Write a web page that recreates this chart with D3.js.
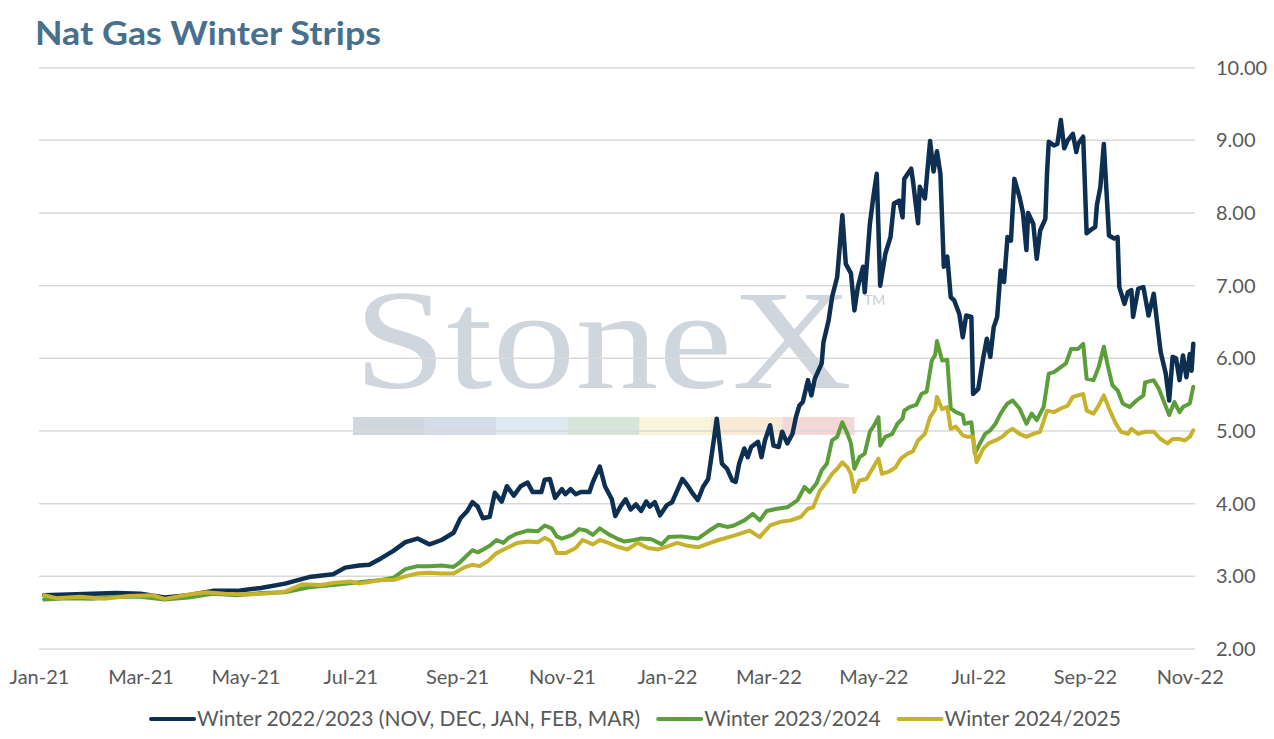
<!DOCTYPE html>
<html>
<head>
<meta charset="utf-8">
<script src="https://cdn.jsdelivr.net/npm/d3@7"></script>
<style>
  body { margin: 0; background: #fff; }
  svg { display: block; font-family: Lato, "Open Sans", sans-serif; }
</style>
</head>
<body>
<svg id="chart" width="1274" height="739"></svg>
<script>
// Winter strip prices ($/MMBtu)
var winter2223 = [
  ["2021-01-04",2.74],["2021-01-18",2.75],["2021-02-01",2.76],["2021-02-15",2.77],["2021-03-01",2.76],
  ["2021-03-15",2.71],["2021-03-29",2.74],["2021-04-12",2.80],["2021-04-26",2.80],["2021-05-10",2.84],
  ["2021-05-24",2.90],["2021-06-07",2.99],["2021-06-21",3.03],["2021-06-28",3.12],["2021-07-06",3.15],
  ["2021-07-12",3.16],["2021-07-19",3.25],["2021-07-26",3.35],["2021-08-02",3.47],["2021-08-09",3.52],
  ["2021-08-16",3.44],["2021-08-23",3.50],["2021-08-30",3.60],["2021-09-03",3.80],["2021-09-07",3.90],
  ["2021-09-10",4.02],["2021-09-13",3.96],["2021-09-16",3.80],["2021-09-20",3.82],["2021-09-23",4.15],
  ["2021-09-27",4.03],["2021-09-30",4.24],["2021-10-04",4.11],["2021-10-08",4.24],["2021-10-12",4.29],
  ["2021-10-15",4.16],["2021-10-20",4.16],["2021-10-22",4.33],["2021-10-25",4.34],["2021-10-28",4.08],
  ["2021-11-01",4.20],["2021-11-03",4.13],["2021-11-06",4.20],["2021-11-09",4.13],["2021-11-12",4.16],
  ["2021-11-17",4.16],["2021-11-19",4.30],["2021-11-23",4.51],["2021-11-26",4.24],["2021-11-30",4.06],
  ["2021-12-02",3.83],["2021-12-05",3.96],["2021-12-08",4.06],["2021-12-11",3.92],["2021-12-14",3.99],
  ["2021-12-17",3.90],["2021-12-20",4.03],["2021-12-22",3.96],["2021-12-25",4.02],["2021-12-28",3.84],
  ["2022-01-01",3.98],["2022-01-04",4.02],["2022-01-07",4.18],["2022-01-10",4.34],["2022-01-13",4.25],
  ["2022-01-16",4.14],["2022-01-19",4.05],["2022-01-22",4.23],["2022-01-25",4.34],["2022-01-28",4.83],
  ["2022-01-30",5.17],["2022-02-02",4.55],["2022-02-05",4.48],["2022-02-08",4.32],["2022-02-10",4.30],
  ["2022-02-12",4.55],["2022-02-15",4.76],["2022-02-17",4.64],["2022-02-19",4.78],["2022-02-23",4.85],
  ["2022-02-25",4.64],["2022-02-27",4.87],["2022-03-02",5.08],["2022-03-04",4.80],["2022-03-07",4.78],
  ["2022-03-09",4.99],["2022-03-12",4.83],["2022-03-15",4.96],["2022-03-17",5.19],["2022-03-19",5.35],
  ["2022-03-21",5.40],["2022-03-24",5.70],["2022-03-26",5.49],["2022-03-28",5.72],["2022-04-01",5.93],
  ["2022-04-02",6.22],["2022-04-05",6.52],["2022-04-07",6.84],["2022-04-10",7.12],["2022-04-13",7.97],
  ["2022-04-15",7.30],["2022-04-18",7.17],["2022-04-20",6.66],["2022-04-22",6.98],["2022-04-25",7.26],
  ["2022-04-26",6.91],["2022-04-29",7.85],["2022-05-01",8.22],["2022-05-03",8.54],["2022-05-05",7.00],
  ["2022-05-08",7.44],["2022-05-11",7.67],["2022-05-13",8.13],["2022-05-16",8.17],["2022-05-18",7.94],
  ["2022-05-19",8.47],["2022-05-23",8.61],["2022-05-24",8.45],["2022-05-27",7.86],["2022-05-28",8.36],
  ["2022-05-31",8.20],["2022-06-03",8.99],["2022-06-05",8.57],["2022-06-07",8.85],["2022-06-09",8.54],
  ["2022-06-11",7.26],["2022-06-13",7.40],["2022-06-15",6.84],["2022-06-17",6.80],["2022-06-20",6.61],
  ["2022-06-22",6.29],["2022-06-24",6.59],["2022-06-27",6.57],["2022-06-28",5.51],["2022-07-01",5.58],
  ["2022-07-04",6.02],["2022-07-06",6.27],["2022-07-08",6.02],["2022-07-10",6.43],["2022-07-12",6.57],
  ["2022-07-14",7.21],["2022-07-16",7.05],["2022-07-18",7.67],["2022-07-20",7.62],["2022-07-22",8.47],
  ["2022-07-25",8.22],["2022-07-27",8.00],["2022-07-29",7.49],["2022-07-30",8.00],["2022-08-02",7.85],
  ["2022-08-04",7.37],["2022-08-06",7.76],["2022-08-09",7.92],["2022-08-10",8.56],["2022-08-11",8.98],
  ["2022-08-14",8.93],["2022-08-16",8.95],["2022-08-18",9.28],["2022-08-20",8.89],["2022-08-22",9.00],
  ["2022-08-25",9.09],["2022-08-27",8.84],["2022-08-28",8.95],["2022-08-31",9.05],["2022-09-02",7.72],
  ["2022-09-04",7.76],["2022-09-07",7.81],["2022-09-08",8.11],["2022-09-10",8.36],["2022-09-12",8.95],
  ["2022-09-15",7.69],["2022-09-18",7.65],["2022-09-20",7.67],["2022-09-21",6.98],["2022-09-24",6.75],
  ["2022-09-26",6.91],["2022-09-28",6.94],["2022-09-29",6.57],["2022-10-02",6.96],["2022-10-05",6.98],
  ["2022-10-08",6.59],["2022-10-11",6.89],["2022-10-15",6.09],["2022-10-18",5.79],["2022-10-20",5.42],
  ["2022-10-22",6.02],["2022-10-24",6.00],["2022-10-26",5.70],["2022-10-28",6.04],["2022-10-30",5.74],
  ["2022-11-01",6.06],["2022-11-02",5.83],["2022-11-03",6.20]
];

var winter2324 = [
  ["2021-01-04",2.68],["2021-01-18",2.70],["2021-02-01",2.69],["2021-02-15",2.72],["2021-03-01",2.72],
  ["2021-03-15",2.68],["2021-03-29",2.71],["2021-04-12",2.76],["2021-04-26",2.74],["2021-05-10",2.77],
  ["2021-05-24",2.78],["2021-06-07",2.85],["2021-06-21",2.88],["2021-07-06",2.92],["2021-07-19",2.95],
  ["2021-07-26",2.98],["2021-08-02",3.10],["2021-08-09",3.14],["2021-08-16",3.14],["2021-08-23",3.15],
  ["2021-08-30",3.13],["2021-09-03",3.20],["2021-09-10",3.36],["2021-09-13",3.33],["2021-09-17",3.38],
  ["2021-09-20",3.42],["2021-09-24",3.50],["2021-09-28",3.46],["2021-10-01",3.53],["2021-10-05",3.58],
  ["2021-10-12",3.63],["2021-10-18",3.62],["2021-10-22",3.70],["2021-10-26",3.66],["2021-10-29",3.55],
  ["2021-11-01",3.52],["2021-11-07",3.57],["2021-11-11",3.65],["2021-11-15",3.63],["2021-11-19",3.57],
  ["2021-11-23",3.66],["2021-11-28",3.58],["2021-12-03",3.52],["2021-12-07",3.48],["2021-12-13",3.50],
  ["2021-12-17",3.52],["2021-12-23",3.51],["2021-12-29",3.44],["2022-01-02",3.54],["2022-01-09",3.55],
  ["2022-01-19",3.52],["2022-01-25",3.62],["2022-01-31",3.71],["2022-02-05",3.68],["2022-02-09",3.70],
  ["2022-02-15",3.77],["2022-02-20",3.86],["2022-02-24",3.77],["2022-02-28",3.90],["2022-03-06",3.93],
  ["2022-03-12",3.95],["2022-03-18",4.05],["2022-03-22",4.23],["2022-03-25",4.16],["2022-03-29",4.28],
  ["2022-04-01",4.46],["2022-04-04",4.55],["2022-04-07",4.87],["2022-04-10",4.92],["2022-04-11",4.99],
  ["2022-04-13",5.12],["2022-04-16",4.96],["2022-04-18",4.83],["2022-04-20",4.48],["2022-04-23",4.64],
  ["2022-04-26",4.69],["2022-04-29",4.99],["2022-05-01",5.06],["2022-05-04",5.19],["2022-05-05",4.80],
  ["2022-05-08",4.92],["2022-05-12",4.96],["2022-05-15",5.10],["2022-05-18",5.17],["2022-05-19",5.28],
  ["2022-05-22",5.33],["2022-05-26",5.36],["2022-05-29",5.51],["2022-06-01",5.54],["2022-06-04",5.97],
  ["2022-06-06",6.05],["2022-06-07",6.24],["2022-06-10",5.97],["2022-06-13",5.98],["2022-06-15",5.31],
  ["2022-06-18",5.26],["2022-06-22",5.22],["2022-06-23",5.10],["2022-06-27",5.12],["2022-06-29",4.69],
  ["2022-07-02",4.83],["2022-07-05",4.96],["2022-07-08",5.01],["2022-07-11",5.10],["2022-07-14",5.24],
  ["2022-07-16",5.31],["2022-07-18",5.38],["2022-07-21",5.42],["2022-07-25",5.31],["2022-07-29",5.10],
  ["2022-08-01",5.24],["2022-08-04",5.15],["2022-08-08",5.33],["2022-08-11",5.79],["2022-08-14",5.81],
  ["2022-08-18",5.88],["2022-08-21",5.93],["2022-08-24",6.13],["2022-08-28",6.13],["2022-08-31",6.20],
  ["2022-09-02",5.72],["2022-09-06",5.70],["2022-09-09",5.88],["2022-09-12",6.16],["2022-09-14",5.93],
  ["2022-09-17",5.63],["2022-09-20",5.56],["2022-09-23",5.38],["2022-09-27",5.33],["2022-10-01",5.42],
  ["2022-10-05",5.49],["2022-10-06",5.67],["2022-10-11",5.70],["2022-10-14",5.58],["2022-10-17",5.40],
  ["2022-10-20",5.22],["2022-10-23",5.40],["2022-10-26",5.26],["2022-10-28",5.33],["2022-11-01",5.38],
  ["2022-11-03",5.61]
];

var winter2425 = [
  ["2021-01-04",2.74],["2021-01-11",2.70],["2021-01-25",2.72],["2021-02-08",2.69],["2021-02-22",2.73],
  ["2021-03-08",2.74],["2021-03-15",2.69],["2021-03-29",2.75],["2021-04-08",2.78],["2021-04-19",2.76],
  ["2021-05-03",2.75],["2021-05-17",2.77],["2021-05-24",2.79],["2021-06-03",2.89],["2021-06-14",2.88],
  ["2021-06-21",2.91],["2021-07-01",2.93],["2021-07-06",2.90],["2021-07-19",2.95],["2021-07-26",2.95],
  ["2021-08-02",3.00],["2021-08-09",3.04],["2021-08-16",3.05],["2021-08-23",3.04],["2021-08-30",3.04],
  ["2021-09-05",3.12],["2021-09-10",3.16],["2021-09-14",3.14],["2021-09-19",3.21],["2021-09-24",3.32],
  ["2021-09-30",3.39],["2021-10-06",3.46],["2021-10-12",3.48],["2021-10-18",3.47],["2021-10-22",3.53],
  ["2021-10-26",3.48],["2021-10-29",3.32],["2021-11-03",3.32],["2021-11-09",3.39],["2021-11-13",3.50],
  ["2021-11-19",3.44],["2021-11-23",3.50],["2021-11-28",3.46],["2021-12-03",3.41],["2021-12-09",3.37],
  ["2021-12-15",3.46],["2021-12-21",3.39],["2021-12-27",3.37],["2022-01-01",3.41],["2022-01-07",3.46],
  ["2022-01-13",3.42],["2022-01-19",3.40],["2022-01-25",3.45],["2022-01-31",3.50],["2022-02-09",3.56],
  ["2022-02-18",3.63],["2022-02-24",3.54],["2022-03-02",3.70],["2022-03-08",3.75],["2022-03-14",3.77],
  ["2022-03-20",3.82],["2022-03-24",3.93],["2022-03-27",3.95],["2022-03-31",4.18],["2022-04-04",4.30],
  ["2022-04-07",4.41],["2022-04-10",4.48],["2022-04-13",4.57],["2022-04-16",4.50],["2022-04-18",4.41],
  ["2022-04-20",4.16],["2022-04-23",4.32],["2022-04-27",4.34],["2022-05-01",4.50],["2022-05-04",4.62],
  ["2022-05-06",4.41],["2022-05-10",4.44],["2022-05-14",4.50],["2022-05-17",4.62],["2022-05-21",4.69],
  ["2022-05-24",4.72],["2022-05-27",4.87],["2022-05-31",4.96],["2022-06-03",5.19],["2022-06-06",5.30],
  ["2022-06-07",5.47],["2022-06-10",5.30],["2022-06-13",5.33],["2022-06-15",5.03],["2022-06-18",5.06],
  ["2022-06-22",4.94],["2022-06-25",4.92],["2022-06-28",4.92],["2022-06-30",4.57],["2022-07-04",4.76],
  ["2022-07-07",4.83],["2022-07-11",4.87],["2022-07-15",4.92],["2022-07-18",4.99],["2022-07-21",5.03],
  ["2022-07-25",4.96],["2022-07-29",4.92],["2022-08-02",4.96],["2022-08-06",4.99],["2022-08-10",5.28],
  ["2022-08-14",5.26],["2022-08-18",5.31],["2022-08-22",5.35],["2022-08-25",5.47],["2022-08-31",5.51],
  ["2022-09-02",5.28],["2022-09-06",5.24],["2022-09-09",5.35],["2022-09-12",5.49],["2022-09-15",5.31],
  ["2022-09-19",5.10],["2022-09-22",4.99],["2022-09-26",4.96],["2022-09-28",5.03],["2022-10-02",4.96],
  ["2022-10-06",4.99],["2022-10-11",4.99],["2022-10-15",4.89],["2022-10-19",4.83],["2022-10-22",4.89],
  ["2022-10-26",4.89],["2022-10-29",4.87],["2022-11-01",4.92],["2022-11-03",5.01]
];

var seriesNames = ["Winter 2022/2023 (NOV, DEC, JAN, FEB, MAR)", "Winter 2023/2024", "Winter 2024/2025"];
var seriesColors = ["#0c2f52", "#5b9e3a", "#c7b22e"];
var yTicks = [2, 3, 4, 5, 6, 7, 8, 9, 10];
var xTickDates = ["2021-01-01","2021-03-01","2021-05-01","2021-07-01","2021-09-01","2021-11-01",
                  "2022-01-01","2022-03-01","2022-05-01","2022-07-01","2022-09-01","2022-11-01"];
var watermarkColors = ["#d1d7df", "#d4dde7", "#dee9f2", "#d7e4da", "#f8f5db", "#f9ead5", "#f4d7d7"];

var parse = d3.timeParse("%Y-%m-%d");
var series = [winter2223, winter2324, winter2425].map(function(s) {
  return s.map(function(d) { return { date: parse(d[0]), value: d[1] }; });
});

var svg = d3.select("#chart");
var plotLeft = 39, plotRight = 1195, plotTop = 67.7, plotBottom = 649;

var x = d3.scaleTime()
    .domain([parse("2021-01-01"), parse("2022-11-04")])
    .range([plotLeft, plotRight]);

var y = d3.scaleLinear()
    .domain([2, 10])
    .range([plotBottom, plotTop]);

// title
svg.append("text")
    .attr("x", 35)
    .attr("y", 45)
    .attr("fill", "#46708c")
    .attr("font-size", 32)
    .attr("font-weight", 700)
    .attr("textLength", 346)
    .attr("lengthAdjust", "spacingAndGlyphs")
    .text("Nat Gas Winter Strips");

// watermark (behind the grid)
var wm = svg.append("g").attr("class", "watermark");
wm.append("text")
    .attr("x", 354)
    .attr("y", 388)
    .attr("font-family", "'Liberation Serif', 'DejaVu Serif', serif")
    .attr("font-size", 142)
    .attr("fill", "#d0d6de")
    .attr("textLength", 498)
    .attr("lengthAdjust", "spacingAndGlyphs")
    .text("StoneX");
wm.append("text")
    .attr("x", 864)
    .attr("y", 305)
    .attr("font-size", 14)
    .attr("fill", "#c9ced5")
    .text("TM");
var band = d3.scaleBand().domain(d3.range(watermarkColors.length)).range([353, 854]);
wm.selectAll("rect")
    .data(watermarkColors)
  .enter().append("rect")
    .attr("x", function(d, i) { return band(i); })
    .attr("y", 417)
    .attr("width", band.bandwidth() + 0.5)
    .attr("height", 18)
    .attr("fill", function(d) { return d; });

// horizontal gridlines
svg.append("g")
    .selectAll("line")
    .data(yTicks)
  .enter().append("line")
    .attr("x1", plotLeft)
    .attr("x2", plotRight)
    .attr("y1", function(d) { return y(d); })
    .attr("y2", function(d) { return y(d); })
    .attr("stroke", "#d9d9d9")
    .attr("stroke-width", 1.5);

// y axis on the right
var yAxis = svg.append("g")
    .attr("transform", "translate(" + (plotRight + 21) + ",0)")
    .call(d3.axisRight(y).tickValues(yTicks).tickFormat(d3.format(".2f")).tickSize(0).tickPadding(0));
yAxis.select(".domain").remove();
yAxis.selectAll("text")
    .attr("font-family", "Lato, sans-serif")
    .attr("font-size", 20)
    .attr("fill", "#595959")
    .attr("text-anchor", "start");

// x axis
var xAxis = svg.append("g")
    .attr("transform", "translate(0,670)")
    .call(d3.axisBottom(x)
      .tickValues(xTickDates.map(parse))
      .tickFormat(d3.timeFormat("%b-%y"))
      .tickSize(0)
      .tickPadding(0));
xAxis.select(".domain").remove();
xAxis.selectAll("text")
    .attr("font-family", "Lato, sans-serif")
    .attr("font-size", 20)
    .attr("fill", "#595959")
    .attr("dy", "0.71em");

// lines
var line = d3.line()
    .x(function(d) { return x(d.date); })
    .y(function(d) { return y(d.value); });

svg.append("g")
    .selectAll("path")
    .data(series)
  .enter().append("path")
    .attr("d", line)
    .attr("fill", "none")
    .attr("stroke", function(d, i) { return seriesColors[i]; })
    .attr("stroke-width", function(d, i) { return i === 0 ? 4.5 : 4; })
    .attr("stroke-linejoin", "round")
    .attr("stroke-linecap", "round");

// legend, centred under the plot
var legend = svg.append("g").attr("transform", "translate(0,719)");
var items = legend.selectAll("g")
    .data(seriesNames)
  .enter().append("g");
items.append("line")
    .attr("x1", 0).attr("x2", 43)
    .attr("stroke", function(d, i) { return seriesColors[i]; })
    .attr("stroke-width", 4)
    .attr("stroke-linecap", "round");
items.append("text")
    .attr("x", 46)
    .attr("dy", "0.35em")
    .attr("font-family", "Lato, sans-serif")
    .attr("font-size", 21)
    .attr("fill", "#595959")
    .text(function(d) { return d; });

var widths = [];
items.each(function() { widths.push(this.getBBox().width); });
var gap = 18;
var total = d3.sum(widths) + gap * (widths.length - 1);
var pos = 636 - total / 2;
items.attr("transform", function(d, i) {
  var t = "translate(" + pos + ",0)";
  pos += widths[i] + gap;
  return t;
});
</script>
</body>
</html>
